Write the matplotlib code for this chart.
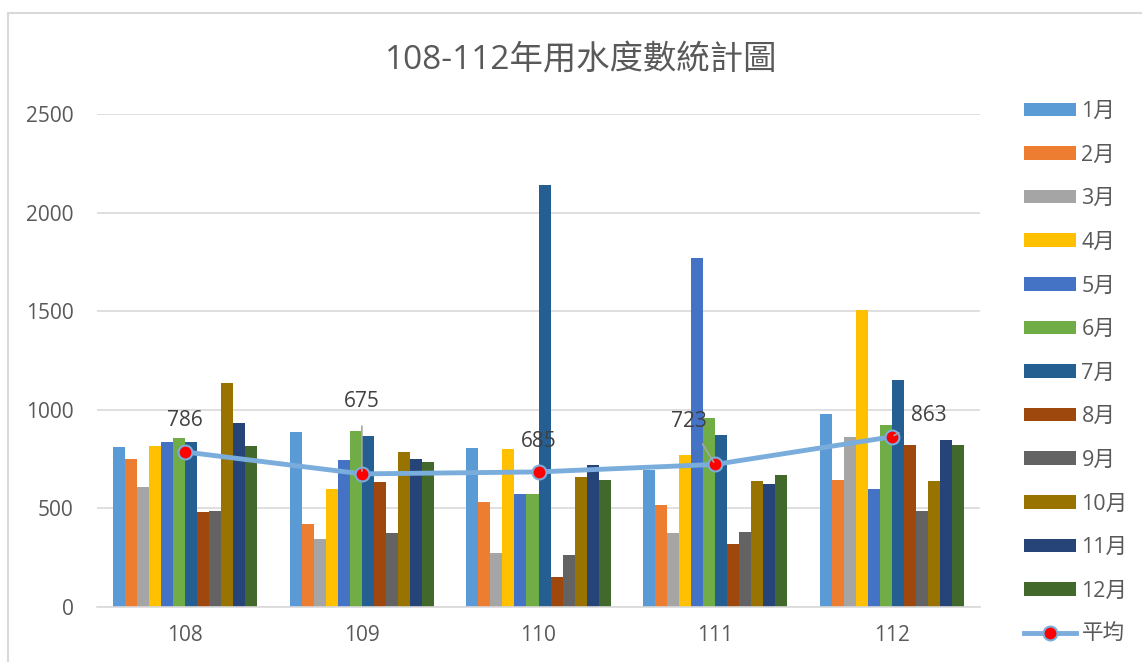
import numpy as np
import matplotlib.pyplot as plt
from matplotlib.patches import Rectangle

plt.rcParams['font.family'] = ['Open Sans', 'Noto Sans CJK TC', 'DejaVu Sans']

# Data
years = ['108', '109', '110', '111', '112']
months = ['1月', '2月', '3月', '4月', '5月', '6月',
          '7月', '8月', '9月', '10月', '11月', '12月']
usage_108 = [810, 749, 607, 816, 837, 857, 837, 480, 488, 1137, 931, 815]
usage_109 = [886, 419, 345, 598, 745, 892, 869, 634, 374, 787, 749, 735]
usage_110 = [808, 532, 275, 801, 575, 575, 2140, 152, 264, 661, 720, 644]
usage_111 = [695, 517, 375, 771, 1768, 957, 870, 318, 380, 640, 625, 668]
usage_112 = [979, 644, 860, 1507, 597, 923, 1152, 823, 487, 637, 845, 823]
average = [786, 675, 685, 723, 863]

colors = ['#5B9BD5', '#ED7D31', '#A5A5A5', '#FFC000', '#4472C4', '#70AD47',
          '#255E91', '#9E480E', '#636363', '#997300', '#264478', '#43682B']

usage = np.array([usage_108, usage_109, usage_110, usage_111, usage_112])

fig = plt.figure(figsize=(11.42, 6.62), dpi=100)
ax = fig.add_axes([97/1142, 55/662, 883/1142, 493/662])

# Chart frame
fig.patches.append(Rectangle((8/1142, -0.05), 1.2, 1 - 13/662 + 0.05,
                             transform=fig.transFigure, fill=False,
                             edgecolor='#d9d9d9', linewidth=1.5))

# Bars
x = np.arange(len(years))
bw = 0.068
handles = []
for i in range(len(months)):
    b = ax.bar(x - 5.5*bw + i*bw, usage[:, i], width=bw, color=colors[i],
               label=months[i], zorder=2)
    handles.append(b)

# Average line
ln, = ax.plot(x, average, color='#7aaddc', linewidth=3.5, marker='o',
              markersize=10, markerfacecolor='#ff0000',
              markeredgecolor='#7aaddc', markeredgewidth=1.5,
              label='平均', zorder=3)
handles.append(ln)

# Data labels
offsets = [(0, 23), (0, 52), (0, 22), (-19, 31), (27, 15)]
leader = [False, True, False, True, True]
for i in range(len(years)):
    props = dict(arrowstyle='-', color='#a6a6a6', lw=1.2,
                 shrinkA=8, shrinkB=2) if leader[i] else None
    ax.annotate(str(average[i]), (x[i], average[i]), xytext=offsets[i],
                textcoords='offset points', ha='center', va='center',
                fontsize=15, color='#404040', arrowprops=props, zorder=4)

# Formatting
ax.set_xlim(-0.5, 4.5)
ax.set_ylim(0, 2500)
ax.set_yticks([0, 500, 1000, 1500, 2000, 2500])
ax.set_xticks(x)
ax.set_xticklabels(years)
ax.tick_params(axis='both', length=0, labelsize=15, labelcolor='#595959')
ax.tick_params(axis='y', pad=17)
ax.tick_params(axis='x', pad=13)
ax.grid(axis='y', color='#d9d9d9', linewidth=1.2, zorder=0)
ax.set_axisbelow(True)
for s in ['top', 'right', 'left']:
    ax.spines[s].set_visible(False)
ax.spines['bottom'].set_color('#d9d9d9')
ax.spines['bottom'].set_linewidth(1.2)

fig.text(581/1142, 1 - 60/662, '108-112年用水度數統計圖', ha='center',
         va='center', fontsize=24, color='#595959')

leg = ax.legend(handles=handles, loc='upper left',
                bbox_to_anchor=(1024/1142, 1 - 101/662),
                bbox_transform=fig.transFigure, frameon=False, fontsize=15.5,
                handlelength=2.42, handleheight=0.6, handletextpad=0.25,
                labelspacing=1.05, borderaxespad=0, borderpad=0)
for t in leg.get_texts():
    t.set_color('#595959')

plt.savefig('out.png', dpi=100)
